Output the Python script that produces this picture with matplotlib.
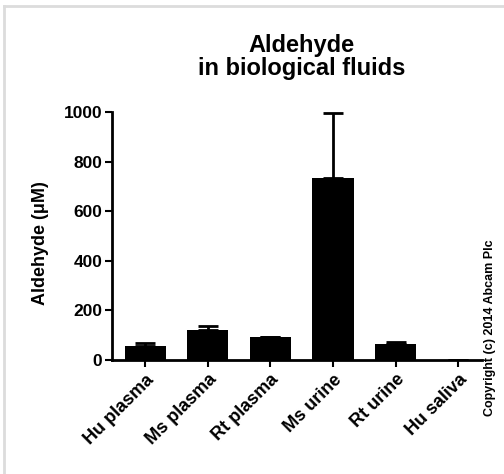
import matplotlib.pyplot as plt
from matplotlib.lines import Line2D

# Datos
muestras = ["Hu plasma", "Ms plasma", "Rt plasma", "Ms urine", "Rt urine", "Hu saliva"]
medias = [57, 119, 91, 733, 63, 0]
errores = [10, 18, 2, 262, 10, 0]
yticks = [0, 200, 400, 600, 800, 1000]

plt.rcParams['font.family'] = ['Liberation Sans', 'DejaVu Sans']
plt.rcParams['font.weight'] = 'bold'

fig = plt.figure(figsize=(5.04, 4.74), dpi=100)
ax = fig.add_axes([112/504, 114/474, 370/504, 248/474])

x = list(range(len(muestras)))
ax.bar(x, medias, width=0.66, color='black', zorder=2)
ax.errorbar(x, medias, yerr=[[0]*len(errores), errores], fmt='none',
            ecolor='black', elinewidth=2, capsize=7, capthick=2, zorder=1)

ax.set_xlim(-0.53, 5.38)
ax.set_ylim(0, 1000)
ax.set_yticks(yticks)
ax.set_xticks(x)
ax.set_xticklabels(muestras, rotation=45, ha='right', rotation_mode='anchor',
                   fontsize=13, fontweight='bold')
ax.tick_params(axis='y', labelsize=12.5, width=1.5, length=5, pad=2)
ax.tick_params(axis='x', width=1.5, length=5, pad=3)
for lab in ax.get_yticklabels():
    lab.set_fontweight('bold')

for lado in ['top', 'right']:
    ax.spines[lado].set_visible(False)
for lado in ['left', 'bottom']:
    ax.spines[lado].set_linewidth(2)

ax.set_ylabel("Aldehyde (\u03bcM)", fontsize=13, fontweight='bold')
ax.yaxis.set_label_coords(-0.17, 0.47)
fig.text(0.598, 0.88, "Aldehyde\nin biological fluids", ha='center', va='center',
         fontsize=17, fontweight='bold', linespacing=1.0)

fig.text(0.972, 0.308, "Copyright (c) 2014 Abcam Plc", rotation=90, ha='center',
         va='center', fontsize=9, fontweight='bold')

# Marco gris claro
fig.add_artist(Line2D([3.5/504, 3.5/504], [0, 1 - 5.5/474], color='#dcdcdc', lw=2))
fig.add_artist(Line2D([3.5/504, 1], [1 - 5.5/474, 1 - 5.5/474], color='#dcdcdc', lw=2))

plt.savefig("out.png", dpi=100)
